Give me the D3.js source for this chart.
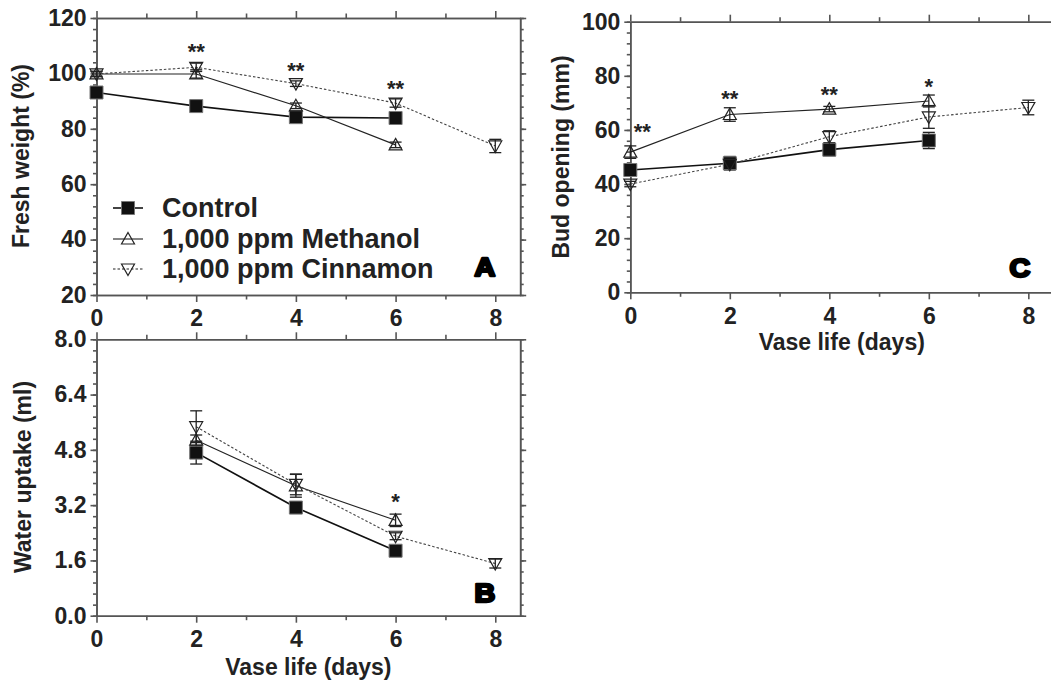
<!DOCTYPE html>
<html>
<head>
<meta charset="utf-8">
<script src="https://cdn.jsdelivr.net/npm/d3@7"></script>
<style>
  body { margin: 0; background: #fff; }
  svg text { font-family: "Liberation Sans", Arial, sans-serif; font-weight: bold; }
</style>
</head>
<body>
<div id="svg-container"></div>
<script>
let w = 1051;
let h = 686;

// data
let days = [0, 2, 4, 6, 8];
let seriesNames = ['Control', '1,000 ppm Methanol', '1,000 ppm Cinnamon'];

let freshControl = [93.1, 88.2, 84.2, 83.9, null];
let freshControlErr = [0.8, 0.8, 1.2, 1.8, null];
let freshMethanol = [99.8, 99.8, 88.3, 74.2, null];
let freshMethanolErr = [0.8, 1.5, 1.0, 1.0, null];
let freshCinnamon = [99.8, 102.2, 96.3, 89.3, 73.8];
let freshCinnamonErr = [1.0, 1.5, 1.0, 1.5, 2.4];

let waterControl = [null, 4.72, 3.13, 1.88, null];
let waterControlErr = [null, 0.33, 0.17, 0.08, null];
let waterMethanol = [null, 5.08, 3.76, 2.76, null];
let waterMethanolErr = [null, 0.15, 0.33, 0.18, null];
let waterCinnamon = [null, 5.47, 3.80, 2.30, 1.51];
let waterCinnamonErr = [null, 0.46, 0.30, 0.10, 0.13];

let budControl = [45.2, 47.7, 52.7, 56.1, null];
let budControlErr = [1.5, 2.5, 2.2, 3.0, null];
let budMethanol = [51.8, 65.7, 67.7, 70.7, null];
let budMethanolErr = [2.3, 2.5, 1.0, 2.2, null];
let budCinnamon = [40.0, 47.3, 57.5, 64.8, 68.3];
let budCinnamonErr = [1.0, 1.5, 2.2, 4.2, 2.7];

// significance marks: day, height (y units), label
let freshStars = [{day: 2, v: 109.4, t: '**'}, {day: 4, v: 102.7, t: '**'}, {day: 6, v: 96, t: '**'}];
let waterStars = [{day: 6, v: 3.44, t: '*'}];
let budStars = [{day: 0.24, v: 61.1, t: '**'}, {day: 2, v: 73.3, t: '**'}, {day: 4, v: 74.6, t: '**'}, {day: 6, v: 77.7, t: '*'}];

let xMajor = [0, 2, 4, 6, 8];
let xMinor = [1, 3, 5, 7];

let svg = d3.select('#svg-container').
append('svg').
attr('width', w).
attr('height', h);

let axisColor = '#555';

function drawPanel(p) {
  let x = d3.scaleLinear().domain([0, 8.5]).range([p.left, p.right]);
  let y = d3.scaleLinear().domain(p.yDomain).range([p.bottom, p.top]);
  let g = svg.append('g');

  // axes: major + minor on every side
  let fmt = p.fmt ? d3.format(p.fmt) : d3.format('d');
  let axes = [
    [d3.axisLeft(y).tickValues(p.yMajor).tickSize(6).tickPadding(4).tickFormat(fmt), 'translate(' + p.left + ',0)'],
    [d3.axisLeft(y).tickValues(p.yMinor).tickSize(3.5).tickFormat(''), 'translate(' + p.left + ',0)'],
    [d3.axisRight(y).tickValues(p.yMajor).tickSize(6).tickFormat(''), 'translate(' + p.right + ',0)'],
    [d3.axisRight(y).tickValues(p.yMinor).tickSize(3.5).tickFormat(''), 'translate(' + p.right + ',0)'],
    [d3.axisBottom(x).tickValues(xMajor).tickSize(7).tickPadding(8).tickFormat(d3.format('d')), 'translate(0,' + p.bottom + ')'],
    [d3.axisBottom(x).tickValues(xMinor).tickSize(4.5).tickFormat(''), 'translate(0,' + p.bottom + ')'],
    [d3.axisTop(x).tickValues(xMajor).tickSize(7).tickFormat(''), 'translate(0,' + p.top + ')'],
    [d3.axisTop(x).tickValues(xMinor).tickSize(4.5).tickFormat(''), 'translate(0,' + p.top + ')']
  ];
  axes.forEach(a => {
    let ax = g.append('g').attr('transform', a[1]).call(a[0].tickSizeOuter(0));
    ax.selectAll('path, line').attr('stroke', axisColor).attr('stroke-width', 1.6);
    ax.selectAll('text').style('font-size', '23px').style('fill', '#222');
  });

  // lines
  let styles = [
    {w: 1.7, dash: null, color: '#111'},
    {w: 1.1, dash: null, color: '#222'},
    {w: 1.1, dash: '2.5,2', color: '#444'}
  ];
  let line = d3.line().
  defined(d => d.v != null).
  x(d => x(d.day)).
  y(d => y(d.v));

  let sets = p.series.map(s => days.map((d, i) => ({day: d, v: s[0][i], e: s[1][i]})));

  sets.forEach((pts, k) => {
    g.append('path').
    datum(pts).
    attr('d', line).
    attr('fill', 'none').
    attr('stroke', styles[k].color).
    attr('stroke-width', styles[k].w).
    attr('stroke-dasharray', styles[k].dash);
  });

  // error bars
  sets.forEach(pts => {
    let eb = g.append('g').selectAll('g').
    data(pts.filter(d => d.v != null)).
    join('g').
    attr('stroke', '#222').
    attr('stroke-width', 1.3);
    eb.append('line').
    attr('x1', d => x(d.day)).attr('x2', d => x(d.day)).
    attr('y1', d => y(d.v - d.e)).attr('y2', d => y(d.v + d.e));
    [1, -1].forEach(sgn => {
      eb.append('line').
      attr('x1', d => x(d.day) - 6).attr('x2', d => x(d.day) + 6).
      attr('y1', d => y(d.v + sgn * d.e)).attr('y2', d => y(d.v + sgn * d.e));
    });
  });

  // markers
  sets.forEach((pts, k) => {
    drawMarker(g.append('g').selectAll('path').
    data(pts.filter(d => d.v != null)).
    join('path').
    attr('transform', d => 'translate(' + x(d.day) + ',' + y(d.v) + ')'), k);
  });

  // stars
  g.selectAll('text.star').
  data(p.stars).
  join('text').
  attr('class', 'star').
  attr('x', d => x(d.day)).
  attr('y', d => y(d.v) + 12).
  attr('text-anchor', 'middle').
  style('font-size', '22px').
  style('fill', '#222').
  text(d => d.t);

  // panel letter
  g.append('text').
  attr('transform', 'translate(' + p.letterX + ',' + p.letterY + ') scale(1.15,1)').
  attr('text-anchor', 'middle').
  style('font-size', '25px').
  style('font-weight', '900').
  style('fill', '#000').
  style('stroke', '#000').
  style('stroke-width', 2.4).
  style('stroke-linejoin', 'round').
  text(p.letter);

  // y title
  g.append('text').
  attr('transform', 'translate(' + p.yTitleX + ',' + p.yTitleY + ') rotate(-90)').
  attr('text-anchor', 'middle').
  style('font-size', '23px').
  style('fill', '#222').
  text(p.yTitle);

  if (p.xTitle) {
    g.append('text').
    attr('x', (p.left + p.right) / 2).
    attr('y', p.xTitleY).
    attr('text-anchor', 'middle').
    style('font-size', '23px').
    style('fill', '#222').
    text(p.xTitle);
  }
}

function drawMarker(sel, k) {
  if (k === 0) {
    sel.attr('d', 'M-6.5,-6.5H6.5V6.5H-6.5Z').
    attr('fill', '#111').
    attr('stroke', '#777').
    attr('stroke-width', 1);
  } else if (k === 1) {
    sel.attr('d', 'M0,-6.5L6.5,5L-6.5,5Z').
    attr('fill', 'none').
    attr('stroke', '#222').
    attr('stroke-width', 1.2);
  } else {
    sel.attr('d', 'M0,6.5L6.5,-5L-6.5,-5Z').
    attr('fill', 'none').
    attr('stroke', '#222').
    attr('stroke-width', 1.2);
  }
}

drawPanel({
  left: 96.5, right: 520.2, top: 18, bottom: 295,
  yDomain: [20, 120], yMajor: d3.range(20, 121, 20), yMinor: d3.range(20, 121, 4),
  series: [[freshControl, freshControlErr], [freshMethanol, freshMethanolErr], [freshCinnamon, freshCinnamonErr]],
  stars: freshStars, letter: 'A', letterX: 485, letterY: 276,
  yTitle: 'Fresh weight (%)', yTitleX: 29, yTitleY: 156
});

drawPanel({
  left: 96.5, right: 520.2, top: 339.3, bottom: 615.7,
  yDomain: [0, 8], yMajor: [0, 1.6, 3.2, 4.8, 6.4, 8.0], yMinor: d3.range(0, 8.01, 0.32), fmt: '.1f',
  series: [[waterControl, waterControlErr], [waterMethanol, waterMethanolErr], [waterCinnamon, waterCinnamonErr]],
  stars: waterStars, letter: 'B', letterX: 485, letterY: 602,
  yTitle: 'Water uptake (ml)', yTitleX: 31, yTitleY: 477,
  xTitle: 'Vase life (days)', xTitleY: 675
});

drawPanel({
  left: 630.3, right: 1053.2, top: 21.7, bottom: 292.3,
  yDomain: [0, 100], yMajor: d3.range(0, 101, 20), yMinor: d3.range(0, 101, 4),
  series: [[budControl, budControlErr], [budMethanol, budMethanolErr], [budCinnamon, budCinnamonErr]],
  stars: budStars, letter: 'C', letterX: 1020, letterY: 277,
  yTitle: 'Bud opening (mm)', yTitleX: 569, yTitleY: 157,
  xTitle: 'Vase life (days)', xTitleY: 350
});

// legend inside panel A
let legend = svg.append('g');
let legendY = [208, 239, 269];
let legendStyles = [
  {w: 1.7, dash: null},
  {w: 1.1, dash: null},
  {w: 1.1, dash: '2.5,2'}
];
seriesNames.forEach((name, k) => {
  legend.append('line').
  attr('x1', 113).attr('x2', 143).
  attr('y1', legendY[k]).attr('y2', legendY[k]).
  attr('stroke', '#222').
  attr('stroke-width', legendStyles[k].w).
  attr('stroke-dasharray', legendStyles[k].dash);
  drawMarker(legend.append('path').attr('transform', 'translate(128,' + legendY[k] + ')'), k);
  legend.append('text').
  attr('x', 162).
  attr('y', legendY[k] + 9).
  style('font-size', '27px').
  style('fill', '#222').
  text(name);
});
</script>
</body>
</html>
